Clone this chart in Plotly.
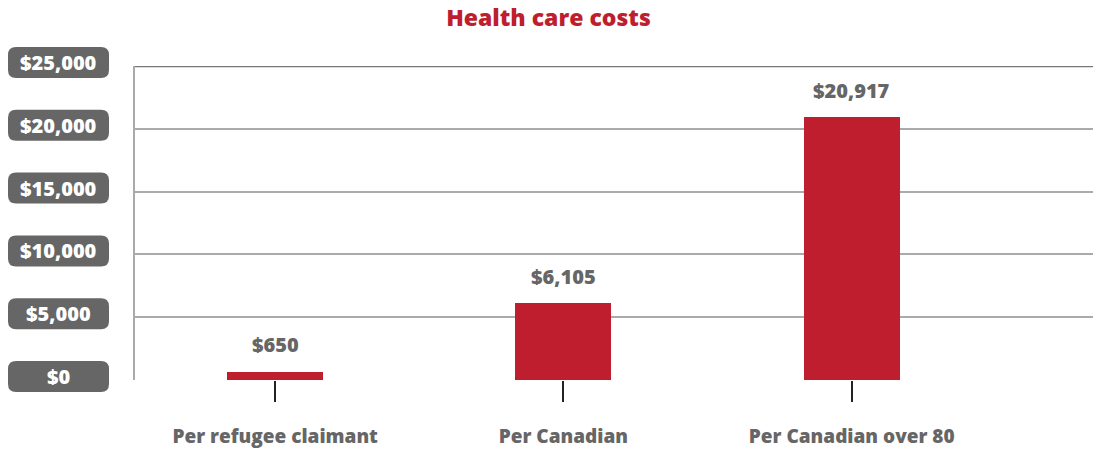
import plotly.graph_objects as go

categories = ["Per refugee claimant", "Per Canadian", "Per Canadian over 80"]
costs = [650, 6105, 20917]
cost_labels = ["$650", "$6,105", "$20,917"]
y_ticks = [0, 5000, 10000, 15000, 20000, 25000]
y_tick_labels = ["$0", "$5,000", "$10,000", "$15,000", "$20,000", "$25,000"]
y_max = 25000

RED = "#BE1E2D"
GRAY_TXT = "#666666"
BOX = "#666666"
FONT = "Open Sans"

W, H = 1093, 451

fig = go.Figure()
fig.add_trace(go.Bar(
    x=list(range(len(categories))), y=costs, width=0.333,
    marker=dict(color=RED, line=dict(width=0)),
    hoverinfo="skip",
))

# value labels
for i, (v, t) in enumerate(zip(costs, cost_labels)):
    fig.add_annotation(x=i, y=v, xref="x", yref="y", text=t, showarrow=False,
                       yshift=27, font=dict(family=FONT, size=20, color=GRAY_TXT, weight=800))

# rounded y-tick boxes
def rounded_path(x0, x1, y0, y1, r):
    return (f"M {x0+r},{y0} L {x1-r},{y0} Q {x1},{y0} {x1},{y0+r} "
            f"L {x1},{y1-r} Q {x1},{y1} {x1-r},{y1} L {x0+r},{y1} "
            f"Q {x0},{y1} {x0},{y1-r} L {x0},{y0+r} Q {x0},{y0} {x0+r},{y0} Z")

for v, t in zip(y_ticks, y_tick_labels):
    fig.add_shape(type="path", xref="paper", yref="paper", xsizemode="pixel", ysizemode="pixel",
                  xanchor=0, yanchor=v / y_max, path=rounded_path(-127, -26, -12, 19, 8),
                  fillcolor=BOX, line=dict(width=0), layer="above")
    fig.add_annotation(x=0, y=v, xref="paper", yref="y", text=t, showarrow=False,
                       xanchor="center", yanchor="middle", xshift=-76.5, yshift=3.5,
                       font=dict(family=FONT, size=20, color="white", weight=800))

# darker top line
fig.add_shape(type="line", xref="paper", yref="y", x0=0, x1=1, y0=y_max, y1=y_max,
              line=dict(color="#777777", width=2.5), layer="below")

fig.update_layout(
    width=W, height=H,
    margin=dict(l=135, r=0, t=66, b=71),
    paper_bgcolor="white", plot_bgcolor="white",
    showlegend=False,
    hovermode=False,
    title=dict(text="Health care costs", x=548.5 / W, xanchor="center",
               y=1 - 18 / H, yanchor="middle", yref="container",
               font=dict(family=FONT, size=23, color=RED, weight=800)),
    xaxis=dict(range=[-0.486, 2.837], tickmode="array", tickvals=list(range(len(categories))),
               ticktext=categories, ticks="outside", ticklen=21, tickwidth=2, tickcolor="#222222",
               showgrid=False, zeroline=False, showline=False, ticklabelstandoff=18,
               tickfont=dict(family=FONT, size=19, color=GRAY_TXT, weight=800)),
    yaxis=dict(range=[0, y_max], tickvals=y_ticks, showticklabels=False, showgrid=True,
               gridcolor="#aaaaaa", gridwidth=2, zeroline=False, showline=True,
               linecolor="#aaaaaa", linewidth=2, ticks=""),
    bargap=0,
)

fig.write_html("out.html", config={"displayModeBar": False, "staticPlot": True},
               post_script="document.body.style.margin='0';")
